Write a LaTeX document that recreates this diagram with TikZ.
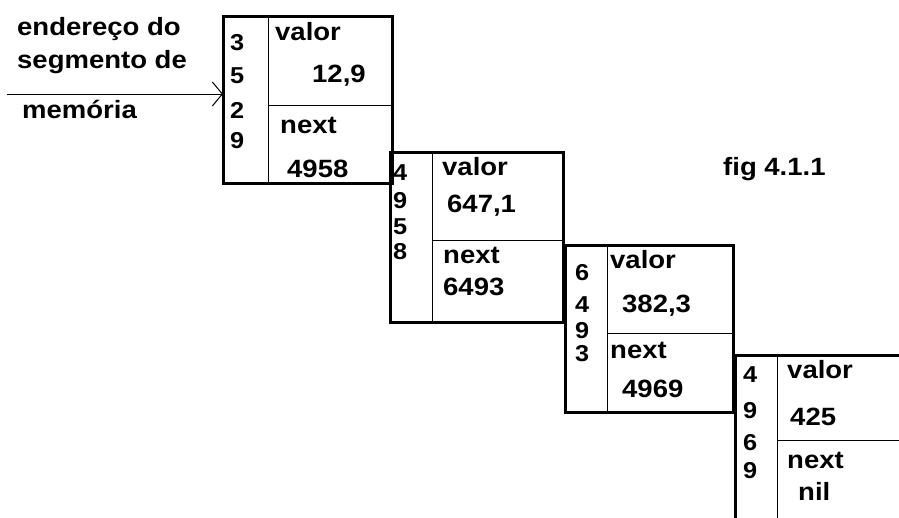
\documentclass[tikz,border=0pt]{standalone}
\usepackage{fontspec}
\newfontfamily\pixfont{Liberation Sans}[FakeStretch=1.1]
\usetikzlibrary{arrows.meta}

\begin{document}
\begin{tikzpicture}[x=1pt,y=-1pt,
    bloco/.style={draw,line width=3pt,anchor=north west,inner sep=0pt,outer sep=0pt},
    fino/.style={line width=1pt},
    txt/.style={anchor=base west,inner sep=0pt,font=\pixfont\bfseries\fontsize{25}{25}\selectfont},
    end/.style={txt,font=\pixfont\bfseries\fontsize{23}{23}\selectfont},
    seta/.style={line width=1pt,-{Straight Barb[length=10pt,width=24pt,line width=1pt]}}]
				\useasboundingbox (0,0) rectangle (899,517);
				\clip (0,0) rectangle (899,517);
				% Texto de entrada
				\node[txt] (endereco) at (17,35) {endereço do};
				\node[txt] (segmento) at (17,68) {segmento de};
				\node[txt] (memoria) at (22,118) {memória};
				\coordinate (origem) at (7,94);
				% Bloco 1
				\node[bloco,minimum width=169pt,minimum height=167pt] (b1) at (223,16) {};
				\draw[fino] (268,16)--(268,183);
				\draw[fino] (268,105)--(392,105);
				\foreach \d/\y [count=\i] in {3/50,5/83,2/118,9/148}
					\node[end] (e1\i) at (230,\y) {\d};
				\node[txt] (valor1) at (275,40) {valor};
				\node[txt] (num1) at (312,82) {12,9};
				\node[txt] (next1) at (280,133) {next};
				\node[txt] (ptr1) at (287,177) {4958};
				\draw[seta] (origem)--(origem -| b1.west);
				% Bloco 2
				\node[bloco,minimum width=173pt,minimum height=170pt] (b2) at (390,152) {};
				\draw[fino] (432,152)--(432,322);
				\draw[fino] (432,240)--(563,240);
				\foreach \d/\y [count=\i] in {4/180,9/208,5/234,8/259}
					\node[end] (e2\i) at (393,\y) {\d};
				\node[txt] (valor2) at (442,175) {valor};
				\node[txt] (num2) at (447,212) {647,1};
				\node[txt] (next2) at (443,263) {next};
				\node[txt] (ptr2) at (443,295) {6493};
				% Bloco 3
				\node[bloco,minimum width=168pt,minimum height=167pt] (b3) at (565,245) {};
				\draw[fino] (607,245)--(607,412);
				\draw[fino] (607,333)--(733,333);
				\foreach \d/\y [count=\i] in {6/280,4/312,9/338,3/361}
					\node[end] (e3\i) at (575,\y) {\d};
				\node[txt] (valor3) at (610,268) {valor};
				\node[txt] (num3) at (622,312) {382,3};
				\node[txt] (next3) at (610,358) {next};
				\node[txt] (ptr3) at (622,397) {4969};
				% Bloco 4 (cortado pela borda)
				\node[bloco,minimum width=170pt,minimum height=167pt] (b4) at (735,355) {};
				\draw[fino] (777,355)--(777,522);
				\draw[fino] (777,440)--(905,440);
				\foreach \d/\y [count=\i] in {4/382,9/418,6/450,9/478}
					\node[end] (e4\i) at (743,\y) {\d};
				\node[txt] (valor4) at (787,378) {valor};
				\node[txt] (num4) at (790,425) {425};
				\node[txt] (next4) at (787,468) {next};
				\node[txt] (ptr4) at (798,500) {nil};
				% Legenda
				\node[txt] (fig) at (723,175) {fig 4.1.1};
		\end{tikzpicture}
\end{document}
